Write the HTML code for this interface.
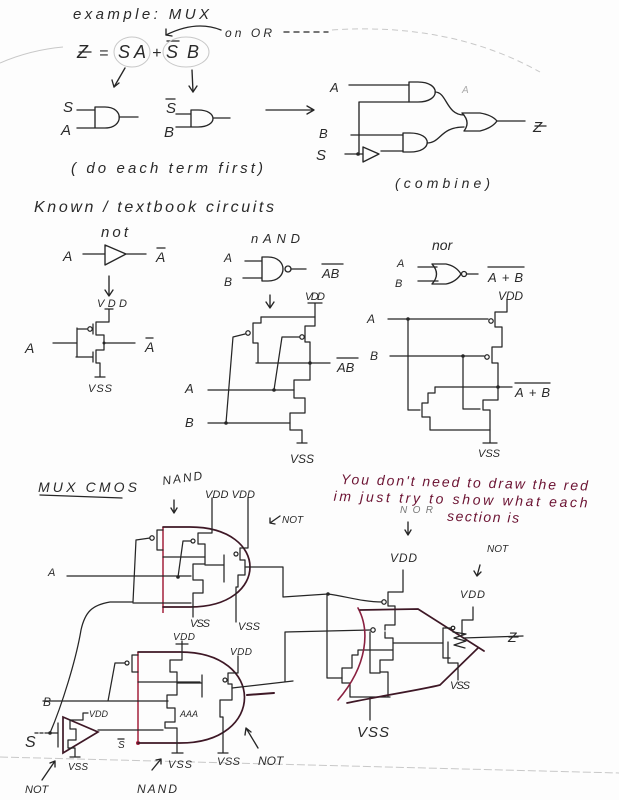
<!DOCTYPE html>
<html><head><meta charset="utf-8"><style>
html,body{margin:0;padding:0;background:#fdfdfd;}
svg{display:block;}
text{font-family:"Liberation Sans","DejaVu Sans",sans-serif;fill:#2a2a2a;font-style:italic;}
.p{fill:none;stroke:#262626;stroke-width:1.35;stroke-linecap:round;stroke-linejoin:round;}
.t{stroke-width:1.25;}
.f{fill:none;stroke:#c8c8c8;stroke-width:1;}
.m{fill:none;stroke:#3e1826;stroke-width:1.7;stroke-linecap:round;}
.r{fill:none;stroke:#a3203c;stroke-width:1.5;}
.rc{fill:none;stroke:#8a2040;stroke-width:1.6;stroke-linecap:round;}
.d{fill:#262626;}
.red{fill:#6b1232;}
</style></head><body>
<svg width="619" height="800" viewBox="0 0 619 800" xmlns="http://www.w3.org/2000/svg">
<rect width="619" height="800" fill="#fdfdfd"/>

<!-- ===== TOP SECTION ===== -->
<text x="73" y="19" font-size="15" textLength="136" lengthAdjust="spacing">example: MUX</text>
<text x="225" y="37" font-size="12" textLength="47" lengthAdjust="spacing">on OR</text>
<path class="p" d="M284,32 H328" stroke-dasharray="5,5"/>
<path class="f" d="M332,30 Q 450,22 540,72" stroke-dasharray="6,4"/>
<path class="f" d="M0,63 Q 30,50 63,47"/>
<path class="p" d="M221,30 Q 196,20 166,35"/>
<path class="p" d="M166,29 L166,35 L172,36"/>

<text x="77" y="58" font-size="18">Z</text>
<path class="p" d="M79,52 H91"/>
<text x="99" y="58" font-size="16">=</text>
<text x="118" y="58" font-size="18" textLength="28" lengthAdjust="spacing">SA</text>
<text x="152" y="58" font-size="16">+</text>
<text x="166" y="58" font-size="18" textLength="33" lengthAdjust="spacing">SB</text>
<path class="p" d="M167,41 H179"/>
<ellipse cx="132" cy="52" rx="18" ry="15" class="f"/>
<ellipse cx="186" cy="52" rx="23" ry="15" class="f"/>

<path class="p" d="M125,68 L114,87"/><path class="p" d="M112,80 L114,87 L119,83"/>
<path class="p" d="M192,70 L193,92"/><path class="p" d="M189,86 L193,92 L197,86"/>

<!-- AND1 -->
<text x="63" y="112" font-size="15">S</text>
<text x="61" y="135" font-size="15">A</text>
<path class="p" d="M77,110 H95 M77,128 H95 M95,107 V128 M95,107 H105 C 124,107 124,128 105,128 H95 M119,117 H138"/>
<!-- AND2 -->
<text x="166" y="113" font-size="15">S</text>
<path class="p" d="M166,99 H175"/>
<text x="164" y="137" font-size="15">B</text>
<path class="p" d="M176,114 H191 M176,127 H191 M191,110 V127 M191,110 H198 C 218,110 218,127 198,127 H191 M213,118 H230"/>
<!-- big arrow -->
<path class="p" d="M266,110 H314 M307,106 L314,110 L307,114"/>

<!-- combined -->
<text x="330" y="92" font-size="13">A</text>
<path class="p" d="M349,85 H409 M409,82 V102 M409,82 H418 C 441,82 441,102 418,102 H409"/>
<text x="462" y="93" font-size="10" style="fill:#aaa">A</text>
<path class="p" d="M359,102 H409 M359,102 V155"/>
<text x="319" y="138" font-size="13">B</text>
<path class="p" d="M351,135 H403 M403,133 V152 M403,133 H410 C 433,133 433,152 410,152 H403"/>
<text x="316" y="160" font-size="15">S</text>
<path class="p" d="M345,154 H363 M363,147 L363,162 L379,154 Z M381,151 H403"/>
<circle cx="358" cy="154" r="1.8" class="d"/>
<path class="p" d="M435,92 C 447,92 446,115 464,115 M427,143 C 441,143 440,127 464,127"/>
<path class="p" d="M462,113 Q 471,122 464,131 M462,113 H480 Q 492,115 497,121 M464,131 H480 Q 492,128 497,121 M497,121 H525"/>
<text x="533" y="132" font-size="15">Z</text>
<path class="p" d="M535,126 H546"/>
<text x="71" y="173" font-size="15" textLength="192" lengthAdjust="spacing">( do each term first)</text>
<text x="395" y="188" font-size="14" textLength="95" lengthAdjust="spacing">(combine)</text>

<!-- ===== MIDDLE SECTION ===== -->
<text x="34" y="212" font-size="16" textLength="240" lengthAdjust="spacing">Known / textbook circuits</text>

<!-- NOT -->
<text x="101" y="237" font-size="15" textLength="27" lengthAdjust="spacing">not</text>
<text x="63" y="261" font-size="14">A</text>
<path class="p" d="M83,254 H105 M105,245 V265 L126,254 Z M126,254 H146"/>
<text x="156" y="262" font-size="14">A</text>
<path class="p" d="M157,248 H165"/>
<path class="p" d="M109,276 V296 M105,290 L109,296 L113,290"/>
<text x="97" y="307" font-size="11" textLength="30" lengthAdjust="spacing">VDD</text>
<path class="p t" d="M105,309 H113 M109,309 V322 H96 V335 H104 V343 V350 H96 V363 H100 V377 M95,377 H105"/>
<path class="p t" d="M93,324 V334 M93,352 V362 M87,329 H78 M77,328 V357 M76,357 H93 M53,343 H77 M104,343 H135"/>
<circle cx="90" cy="329" r="2.2" class="p t"/>
<circle cx="104" cy="343" r="1.5" class="d"/>
<text x="25" y="353" font-size="14">A</text>
<text x="145" y="352" font-size="14">A</text>
<path class="p" d="M146,338 H153"/>
<text x="88" y="392" font-size="11" textLength="24" lengthAdjust="spacing">VSS</text>

<!-- NAND -->
<text x="251" y="243" font-size="13" textLength="49" lengthAdjust="spacing">nAND</text>
<text x="224" y="262" font-size="12">A</text>
<text x="224" y="286" font-size="12">B</text>
<path class="p" d="M245,261 H262 M243,278 H262 M262,257 V281 M262,257 H268 C 288,257 288,281 268,281 H262 M291,269 H306"/>
<circle cx="288" cy="269" r="3" class="p"/>
<text x="322" y="278" font-size="13">AB</text>
<path class="p" d="M322,264 H343"/>
<path class="p" d="M270,295 V308 M266,302 L270,308 L274,302"/>
<text x="305" y="300" font-size="11" textLength="20" lengthAdjust="spacing">VDD</text>
<path class="p t" d="M308,303 H322 M315,303 V317 M261,317 H315"/>
<path class="p t" d="M261,317 V323 H253 V343 H258 V363 M256,363 H330"/>
<path class="p t" d="M315,317 V326 H305 V342 H310 V363"/>
<path class="p t" d="M245,334 L233,337 L226,423 M299,337 L282,337 L274,390"/>
<circle cx="248" cy="333" r="2.2" class="p t"/>
<circle cx="302" cy="337" r="2.2" class="p t"/>
<circle cx="310" cy="363" r="1.8" class="d"/>
<text x="337" y="372" font-size="13">AB</text>
<path class="p" d="M337,358 H358"/>
<path class="p t" d="M310,363 V380 H294 V398 H305 V413 H290 V430 H302 V443 M297,443 H307"/>
<path class="p t" d="M208,390 H294 M208,423 H290"/>
<circle cx="274" cy="390" r="1.8" class="d"/>
<circle cx="226" cy="423" r="1.8" class="d"/>
<text x="185" y="393" font-size="13">A</text>
<text x="185" y="427" font-size="13">B</text>
<text x="290" y="463" font-size="12" textLength="24" lengthAdjust="spacing">VSS</text>

<!-- NOR -->
<text x="432" y="250" font-size="14">nor</text>
<text x="397" y="267" font-size="11">A</text>
<text x="395" y="287" font-size="11">B</text>
<path class="p" d="M418,267 H437 M418,281 H438 M432,264 Q 441,274 432,284 M432,264 H446 Q 456,266 461,274 M432,284 H446 Q 456,282 461,274 M467,274 H478"/>
<circle cx="464" cy="274" r="2.5" class="p"/>
<text x="488" y="282" font-size="13" textLength="35" lengthAdjust="spacing">A+B</text>
<path class="p" d="M488,267 H524"/>
<text x="498" y="300" font-size="12" textLength="25" lengthAdjust="spacing">VDD</text>
<path class="p t" d="M507,300 V312 H495 V327 H502 V347 H492 V363 H498 V387"/>
<circle cx="491" cy="321" r="2.2" class="p t"/>
<circle cx="487" cy="357" r="2.2" class="p t"/>
<path class="p t" d="M388,319 H488 M390,356 H484 M435,387 H512"/>
<circle cx="408" cy="319" r="1.8" class="d"/>
<circle cx="463" cy="356" r="1.8" class="d"/>
<circle cx="498" cy="387" r="1.8" class="d"/>
<text x="367" y="323" font-size="12">A</text>
<text x="370" y="360" font-size="12">B</text>
<text x="515" y="397" font-size="13" textLength="35" lengthAdjust="spacing">A+B</text>
<path class="p" d="M515,383 H550"/>
<path class="p t" d="M435,387 V393 H428 V403 H422 V417 H430 V430 H490 M408,319 V410 H420"/>
<path class="p t" d="M498,387 V400 H483 V410 H490 V443 M463,356 V409 H480 M483,443 H497"/>
<text x="478" y="457" font-size="11" textLength="22" lengthAdjust="spacing">VSS</text>

<!-- ===== BOTTOM SECTION ===== -->
<path class="f" d="M0,757 L619,773" stroke-dasharray="8,3"/>
<text x="38" y="492" font-size="14" textLength="99" lengthAdjust="spacing">MUX  CMOS</text>
<path class="p" d="M40,495 L122,498"/>
<text x="163" y="485" font-size="12" textLength="40" lengthAdjust="spacing" transform="rotate(-8 163 485)">NAND</text>
<path class="p" d="M174,500 V513 M171,508 L174,513 L177,508"/>
<text x="205" y="498" font-size="11" textLength="50" lengthAdjust="spacing">VDD VDD</text>
<text x="282" y="523" font-size="10">NOT</text>
<path class="p" d="M280,516 L270,523 M270,518 L270,523 L275,524"/>

<!-- top NAND + NOT -->
<path class="r" d="M163,527 V613"/>
<path class="m" d="M163,527 H190 C 270,527 270,607 190,607 H163"/>
<path class="p t" d="M212,498 V533 H198 V544 H205 V558 V564 H193 V580 H203 V593 H193 V617"/>
<path class="p t" d="M248,498 V548 H240 V560 H245 V567 V575 H238 V587 H236 V622"/>
<path class="p t" d="M163,530 H157 V550 H163 M163,557 H205"/>
<circle cx="152" cy="538" r="2.2" class="p t"/>
<path class="p t" d="M150,538 L136,540 L133,602 H110 C 92,605 85,612 81,630 C 76,660 62,705 50,733"/>
<path class="p t" d="M133,603 H191"/>
<path class="p t" d="M67,576 H191"/>
<text x="48" y="576" font-size="11">A</text>
<circle cx="193" cy="541" r="2" class="p t"/>
<path class="p t" d="M191,541 H183 L178,577"/>
<circle cx="178" cy="577" r="1.8" class="d"/>
<path class="p t" d="M205,565 H224 M224,555 V582"/>
<circle cx="236" cy="554" r="2" class="p t"/>
<path class="p t" d="M245,567 H283 V597 L328,594"/>
<circle cx="328" cy="594" r="1.8" class="d"/>
<text x="190" y="627" font-size="11" textLength="20" lengthAdjust="spacing">VSS</text>
<text x="238" y="630" font-size="11" textLength="22" lengthAdjust="spacing">VSS</text>

<!-- bottom NAND + NOT -->
<path class="r" d="M138,652 V743"/>
<circle cx="138" cy="743" r="2" fill="#a3203c"/>
<path class="m" d="M138,652 H180 C 266,652 266,743 180,743 H138"/>
<text x="173" y="640" font-size="10" textLength="22" lengthAdjust="spacing">VDD</text>
<path class="p t" d="M182,641 V660 H170 V672 H177 V683 V695 H167 V708 H175 V722 H165 V728 H177 V753 M172,753 H183 M176,644 H188"/>
<circle cx="127" cy="663" r="2" class="p t"/>
<path class="p t" d="M138,655 H132 V672 H138 M125,663 H115 L108,701 M43,701 H168 M138,682 H200 M177,683 H202 M202,675 V697"/>
<text x="180" y="717" font-size="9">AAA</text>
<text x="43" y="706" font-size="12">B</text>
<text x="230" y="655" font-size="10" textLength="22" lengthAdjust="spacing">VDD</text>
<path class="p t" d="M238,656 V673 H228 V684 H232 V688 V700 H220 V717 H223 V753 M218,753 H228"/>
<circle cx="225" cy="680" r="2" class="p t"/>
<path class="p t" d="M232,688 L293,681 M285,632 V682 M285,632 L370,630"/>
<path class="m" d="M247,695 L274,693" style="stroke-width:2"/>
<path class="p" d="M258,748 L246,728 M245,735 L246,728 L251,732"/>
<text x="258" y="765" font-size="12">NOT</text>
<text x="217" y="765" font-size="11" textLength="23" lengthAdjust="spacing">VSS</text>
<path class="p" d="M152,770 L161,759 M156,760 L161,759 L161,764"/>
<text x="168" y="768" font-size="11" textLength="24" lengthAdjust="spacing">VSS</text>
<text x="137" y="793" font-size="12" textLength="40" lengthAdjust="spacing">NAND</text>

<!-- S inverter -->
<text x="25" y="747" font-size="16">S</text>
<path class="p" d="M35,733 H50" stroke-dasharray="3,2"/>
<circle cx="50" cy="733" r="1.8" class="d"/>
<path class="m" d="M63,717 V753 L98,732 Z"/>
<path class="p t" d="M50,733 H58 M58,723 V747 M88,713 H83 V720 H70 V729 H76 V733 V740 H68 V748 H75 V757 M70,757 H80 M98,730 H163"/>
<text x="89" y="717" font-size="9">VDD</text>
<text x="118" y="748" font-size="10">S</text>
<path class="p" d="M118,739 H124"/>
<text x="68" y="770" font-size="10" textLength="20" lengthAdjust="spacing">VSS</text>
<text x="25" y="793" font-size="11">NOT</text>
<path class="p" d="M42,780 L55,761 M50,763 L55,761 L55,767"/>

<!-- red note -->
<g transform="rotate(1.5 341 480)">
<text x="341" y="484" font-size="14" class="red" textLength="247" lengthAdjust="spacing">You don't need to draw the red</text>
<text x="334" y="501" font-size="14" class="red" textLength="254" lengthAdjust="spacing">im just try to show what each</text>
<text x="448" y="518" font-size="14" class="red" textLength="72" lengthAdjust="spacing">section is</text>
</g>
<text x="400" y="513" font-size="10" textLength="33" lengthAdjust="spacing" style="fill:#777">NOR</text>
<path class="p" d="M408,522 V535 M405,530 L408,535 L411,530"/>

<!-- NOR section -->
<text x="390" y="562" font-size="12" textLength="27" lengthAdjust="spacing">VDD</text>
<path class="p t" d="M403,570 V592 H388 V602 M388,602 V606 H395 V625 H385 V630 M385,632 V638 H393 V643 H443"/>
<circle cx="384" cy="602" r="2.2" class="p t"/>
<circle cx="373" cy="630" r="2.2" class="p t"/>
<path class="p t" d="M328,594 C 345,596 362,602 382,602 M327,594 V678 H342 M370,632 V673 H380"/>
<path class="p t" d="M393,650 H358 V655 H352 V668 H342 V683 H350 V697 H390 M393,643 V660 H380 V672 H388 V697 M370,697 V720"/>
<path class="rc" d="M358,608 C 370,630 368,665 338,700"/>
<path class="m" d="M360,610 L418,609 L484,651 M347,703 C 380,696 420,690 440,685 L478,648"/>
<text x="357" y="737" font-size="15" textLength="32" lengthAdjust="spacing">VSS</text>

<!-- right NOT -->
<text x="487" y="552" font-size="10">NOT</text>
<path class="p" d="M480,565 L477,576 M474,571 L477,576 L481,572"/>
<text x="460" y="598" font-size="11" textLength="25" lengthAdjust="spacing">VDD</text>
<path class="p t" d="M473,607 V620 H462 V635 M443,628 V658 H450 M443,628 H451"/>
<circle cx="453" cy="628" r="1.8" class="p t"/>
<path class="p t" d="M453,632 L466,634 L454,638 L466,641 L454,645 L465,648 M448,642 V663 H458 V680"/>
<path class="p t" d="M463,638 L523,636"/>
<text x="508" y="642" font-size="14">Z</text>
<path class="p" d="M509,637 H518"/>
<text x="450" y="689" font-size="11" textLength="20" lengthAdjust="spacing">VSS</text>
</svg>
</body></html>
